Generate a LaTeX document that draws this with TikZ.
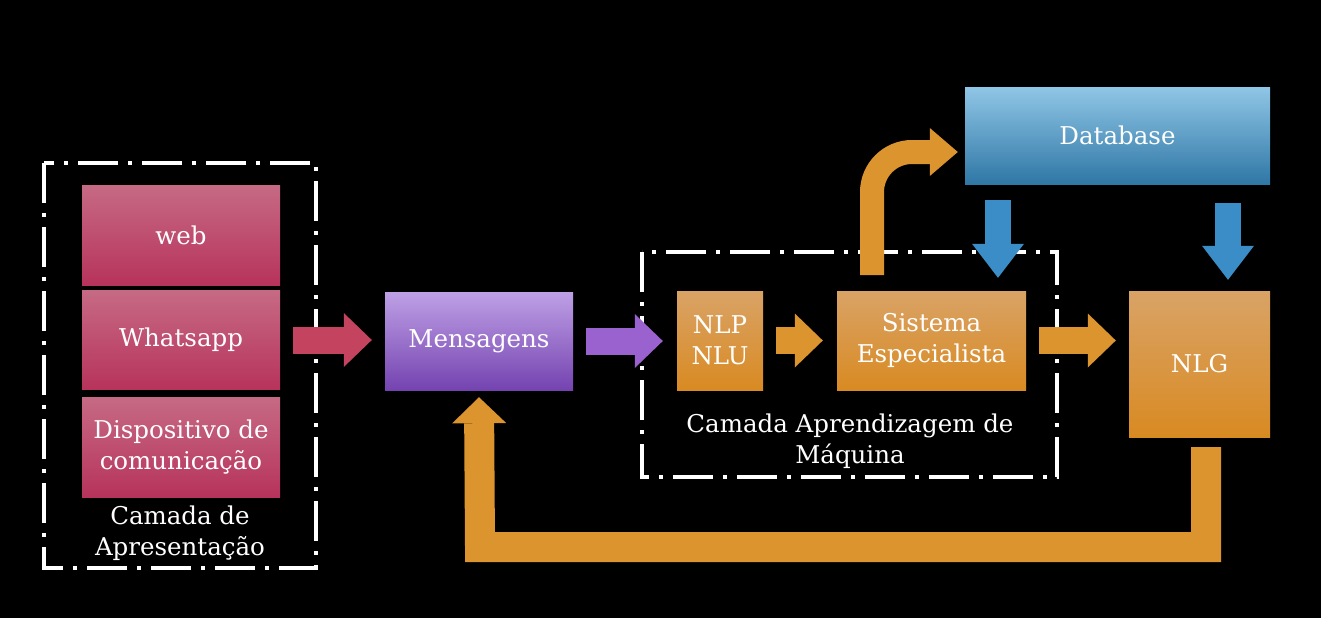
\documentclass[tikz,border=0pt]{standalone}
\usepackage{fontspec}
\setmainfont{DejaVu Serif}
\usetikzlibrary{arrows.meta}
\definecolor{redtop}{HTML}{C66A84}
\definecolor{redbot}{HTML}{B7335C}
\definecolor{purptop}{HTML}{BFA0E6}
\definecolor{purpbot}{HTML}{7443B0}
\definecolor{orgtop}{HTML}{D9A366}
\definecolor{orgbot}{HTML}{D98A22}
\definecolor{bluetop}{HTML}{90C6E6}
\definecolor{bluebot}{HTML}{2F77A6}
\definecolor{redarrow}{HTML}{C4445F}
\definecolor{purparrow}{HTML}{9A62CE}
\definecolor{orgarrow}{HTML}{DC942E}
\definecolor{bluearrow}{HTML}{3A8DC6}
\tikzset{
  box/.style={inner sep=0pt, text=white, align=center, font=\fontsize{24.5}{31}\selectfont},
  redbox/.style={box, top color=redtop, bottom color=redbot},
  purpbox/.style={box, top color=purptop, bottom color=purpbot},
  orgbox/.style={box, top color=orgtop, bottom color=orgbot},
  bluebox/.style={box, top color=bluetop, bottom color=bluebot},
  frame/.style={draw=white, line width=3.8pt, dash pattern=on 40pt off 10pt on 4pt off 10pt},
  lbl/.style={text=white, align=center, font=\fontsize{24.5}{31}\selectfont},
  flow/.style={line width=27pt, -{Triangle[width=54pt,length=28pt,line width=0pt]}},
  downflow/.style={line width=26pt, -{Triangle[width=52pt,length=34pt,line width=0pt]}},
  upflow/.style={line width=24pt, -{Triangle[width=48pt,length=28pt,line width=0pt]}}
}

\begin{document}
\begin{tikzpicture}[x=1pt, y=-1pt]
  \fill[black] (0,0) rectangle (1321,618);
  \useasboundingbox (0,0) rectangle (1321,618);

  % camada de apresentacao
  \node[redbox, minimum width=198pt, minimum height=100pt] (web) at (181,235) {web};
  \node[redbox, minimum width=198pt, minimum height=99pt] (whats) at (181,340) {Whatsapp};
  \node[redbox, minimum width=198pt, minimum height=100pt] (disp) at (181,447) {Dispositivo de\\comunica\c{c}\~ao};
  \node[lbl] (apres) at (180,533) {Camada de\\Apresenta\c{c}\~ao};
  \draw[frame] (44,163) rectangle (316,568);

  \node[purpbox, minimum width=188pt, minimum height=98pt] (msg) at (479,341) {Mensagens};

  % camada aprendizagem de maquina
  \node[orgbox, minimum width=86pt, minimum height=99pt] (nlp) at (720,340.5) {NLP\\NLU};
  \node[orgbox, minimum width=189pt, minimum height=99pt] (sis) at (931.5,340.5) {Sistema\\Especialista};
  \node[lbl] (aprend) at (850,441) {Camada Aprendizagem de\\M\'aquina};
  \draw[frame] (642,252) rectangle (1057,477);

  \node[orgbox, minimum width=141pt, minimum height=146pt] (nlg) at (1199.5,364) {NLG};
  \node[bluebox, minimum width=305pt, minimum height=97pt] (db) at (1117.5,135.5) {Database};

  \coordinate (dbout1) at (998,200);
  \coordinate (dbout2) at (1228,203);
  \coordinate (sisout) at (872,275);
  \coordinate (nlgout) at (1206,447);

  % setas
  \draw[flow, redarrow] ([xshift=13pt]whats.east) -- ([xshift=-13pt]whats.east -| msg.west);
  \draw[flow, purparrow] ([xshift=13pt]msg.east) -- ([xshift=-14pt]msg.east -| nlp.west);
  \draw[flow, orgarrow] ([xshift=13pt]nlp.east) -- ([xshift=-14pt]nlp.east -| sis.west);
  \draw[flow, orgarrow] ([xshift=13pt]sis.east) -- ([xshift=-13pt]sis.east -| nlg.west);
  \draw[downflow, bluearrow] (dbout1) -- ([yshift=13pt]dbout1 |- sis.north);
  \draw[downflow, bluearrow] (dbout2) -- ([yshift=11pt]dbout2 |- nlg.north);
  \draw[upflow, orgarrow, rounded corners=40pt] (sisout) |- ([xshift=-7pt]db.west |- 0,152);
  \draw[orgarrow, line width=30pt, -{Triangle[width=54pt,length=26pt,line width=0pt]}]
    (nlgout) -- (1206,547) -- (480,547) -- ([yshift=-7pt]msg.south);
\end{tikzpicture}
\end{document}
